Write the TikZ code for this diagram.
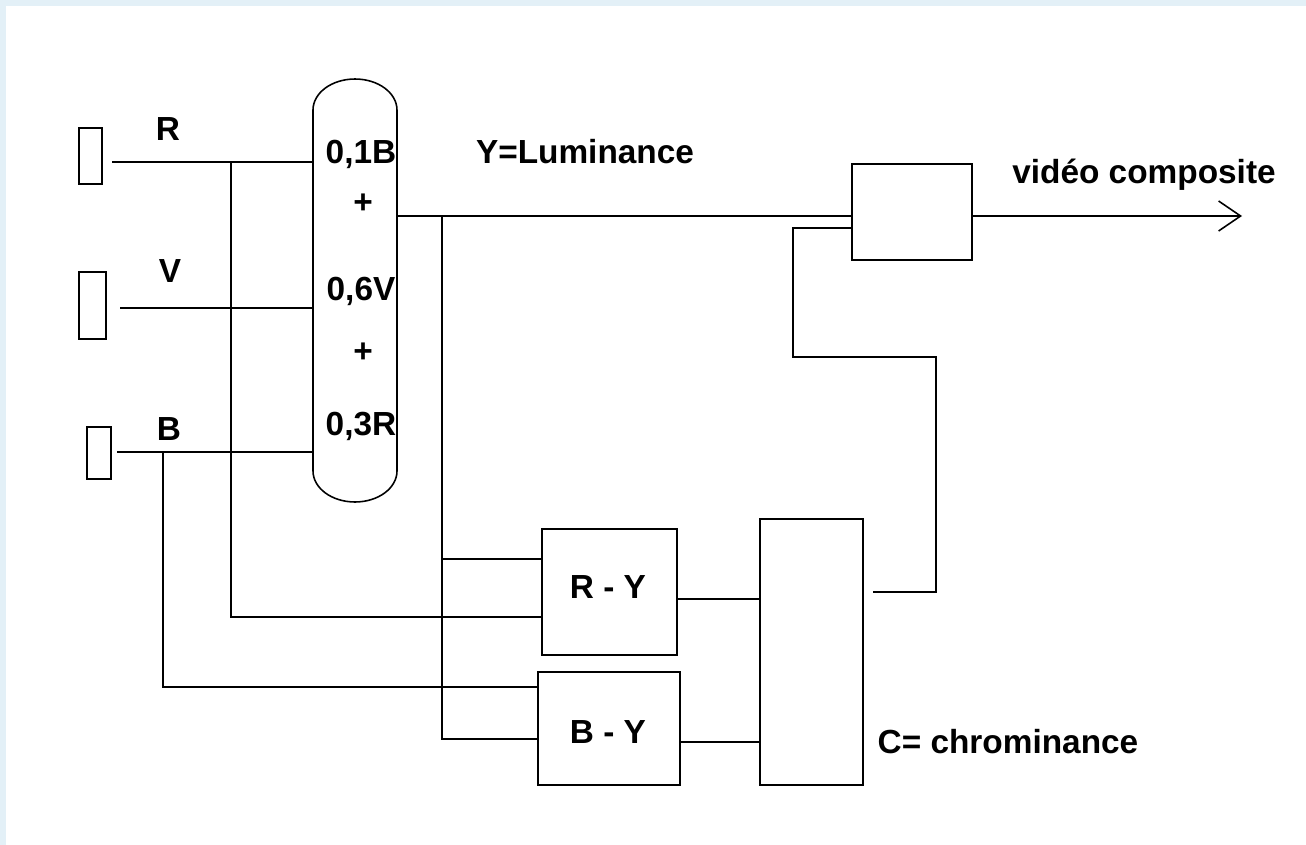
\documentclass[tikz,border=0pt]{standalone}
\usepackage{fontspec}
\setmainfont{Liberation Sans}
\usetikzlibrary{arrows.meta,calc}
\definecolor{bgblue}{HTML}{E3F0F7}
\tikzset{
  wire/.style={line width=0.9pt, draw=black},
  box/.style={draw=black, line width=0.9pt, inner sep=0pt, outer sep=0pt},
  sz/.style 2 args={minimum width=#1*0.02cm, minimum height=#2*0.02cm},
  lbl/.style={font=\bfseries\fontsize{19}{22}\selectfont, inner sep=0pt, anchor=base},
  plus/.style={font=\bfseries\fontsize{19}{22}\selectfont, inner sep=0pt, anchor=center}
}
\begin{document}
\begin{tikzpicture}[x=0.02cm,y=-0.02cm]
\useasboundingbox (0,0) rectangle (1306,845);
\fill[bgblue] (0,0) rectangle (1306,845);
\fill[white] (6,6) rectangle (1306,845);

% input boxes
\node[box, sz={23}{56}] (inR) at (90.5,156) {};
\node[box, sz={27}{67}] (inV) at (92.5,305.5) {};
\node[box, sz={24}{52}] (inB) at (99,453) {};

% summing pill
\node[inner sep=0pt, outer sep=0pt, sz={84}{423}] (pill) at (355,290.5) {};
\draw[wire] (313,110) arc[start angle=180, end angle=0, x radius=0.84cm, y radius=0.62cm]
  -- (397,471) arc[start angle=0, end angle=-180, x radius=0.84cm, y radius=0.62cm] -- cycle;

% other blocks
\node[box, sz={120}{96}] (comp) at (912,212) {};
\node[box, sz={135}{126}] (ry) at (609.5,592) {};
\node[box, sz={142}{113}] (by) at (609,728.5) {};
\node[box, sz={103}{266}] (chroma) at (811.5,652) {};

% labels
\node[lbl] (tR) at (168,140) {R};
\node[lbl] (tV) at (170,282) {V};
\node[lbl] (tB) at (169,440) {B};
\node[lbl] (t1) at (361,163) {0,1B};
\node[plus] (p1) at (363,204) {+};
\node[lbl] (t2) at (361,300) {0,6V};
\node[plus] (p2) at (363,353) {+};
\node[lbl] (t3) at (361,435) {0,3R};
\node[lbl] (tY) at (585,163) {Y=Luminance};
\node[lbl] (tvc) at (1144,183) {vidéo composite};
\node[lbl] (try) at (608,598) {R - Y};
\node[lbl] (tby) at (608,743) {B - Y};
\node[lbl] (tC) at (1008,753) {C= chrominance};

% coordinates
\coordinate (rS) at (112,162);
\coordinate (vS) at (120,308);
\coordinate (bS) at (117,452);
\coordinate (jR) at (231,162);
\coordinate (jRb) at (231,617);
\coordinate (jB) at (163,452);
\coordinate (jBb) at (163,687);
\coordinate (jY) at (442,216);
\coordinate (jY1) at (442,559);
\coordinate (jY2) at (442,739);
\coordinate (cS) at (873,592);
\coordinate (c1) at (936,592);
\coordinate (c2) at (936,357);
\coordinate (c3) at (793,357);
\coordinate (c4) at (793,228);
\coordinate (out) at (1242,216);
\coordinate (ryo) at (700,599);
\coordinate (byo) at (700,742);

% wires
\draw[wire] (rS) -- (pill.west |- rS);
\draw[wire] (vS) -- (pill.west |- vS);
\draw[wire] (bS) -- (pill.west |- bS);
\draw[wire] (jR) -- (jRb) -- (ry.west |- jRb);
\draw[wire] (jB) -- (jBb) -- (by.west |- jBb);
\draw[wire] (pill.east |- jY) -- (comp.west |- jY);
\draw[wire] (jY) -- (jY2) -- (by.west |- jY2);
\draw[wire] (jY1) -- (ry.west |- jY1);
\draw[wire] (ry.east |- ryo) -- (chroma.west |- ryo);
\draw[wire] (by.east |- byo) -- (chroma.west |- byo);
\draw[wire] (cS) -- (c1) -- (c2) -- (c3) -- (c4) -- (comp.west |- c4);
\draw[wire, -{Straight Barb[length=0.44cm, width=0.6cm, line width=0.9pt]}] (comp.east |- out) -- (out);
\end{tikzpicture}
\end{document}
